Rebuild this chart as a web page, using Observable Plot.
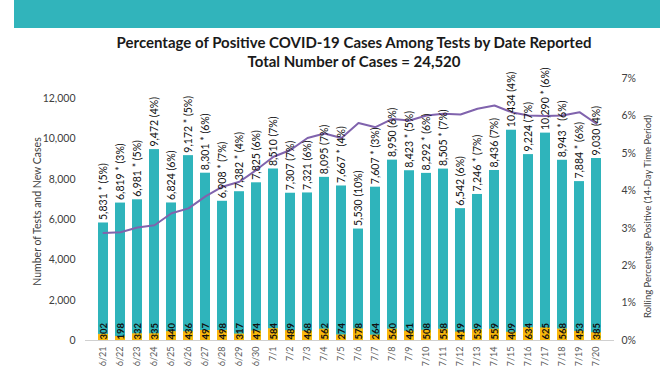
<!DOCTYPE html>
<html>
<head>
<meta charset="utf-8">
<script src="https://cdn.jsdelivr.net/npm/d3@7"></script>
<script src="https://cdn.jsdelivr.net/npm/@observablehq/plot@0.6"></script>
<style>
  html, body { margin: 0; padding: 0; background: #fff; }
  #wrap { position: relative; width: 672px; height: 372px; overflow: hidden; font-family: Lato, "Open Sans", sans-serif; }
  #banner { position: absolute; left: 14px; top: 0; width: 646px; height: 28px; background: #31b4bb; z-index: 2; }
  .ttl { position: absolute; left: 0; width: 708px; text-align: center; font-weight: bold; color: #1a1a1a; z-index: 2; white-space: nowrap; }
  #t1 { top: 33px; font-size: 15px; }
  #t2 { top: 52px; font-size: 15px; }
  #chart { position: absolute; left: 0; top: 0; z-index: 1; }
</style>
</head>
<body>
<div id="wrap">
  <div id="banner"></div>
  <div class="ttl" id="t1">Percentage of Positive COVID-19 Cases Among Tests by Date Reported</div>
  <div class="ttl" id="t2">Total Number of Cases = 24,520</div>
  <div id="chart"></div>
</div>
<script>
const dates = ["6/21","6/22","6/23","6/24","6/25","6/26","6/27","6/28","6/29","6/30",
  "7/1","7/2","7/3","7/4","7/5","7/6","7/7","7/8","7/9","7/10",
  "7/11","7/12","7/13","7/14","7/15","7/16","7/17","7/18","7/19","7/20"];
const tests = [5831,6819,6981,9472,6824,9172,8301,6908,7382,7825,
  8510,7307,7321,8095,7667,5530,7607,8950,8423,8292,
  8505,6542,7246,8436,10434,9224,10290,8943,7884,9030];
const cases = [302,198,332,335,440,436,497,498,317,474,
  584,489,468,562,274,578,264,560,461,508,
  558,419,539,559,409,634,625,568,453,385];
const dailyPct = [5,3,5,4,6,5,6,7,4,6,7,7,6,7,4,10,3,6,5,6,7,6,7,7,4,7,6,6,6,4];
const starred = [1,1,1,0,0,1,1,1,1,0,0,0,0,0,1,0,1,0,1,1,1,0,1,0,0,0,1,1,1,0];
const rolling = [2.87,2.89,3.02,3.08,3.40,3.53,3.85,4.11,4.24,4.56,
  4.91,5.09,5.41,5.53,5.41,5.81,5.70,5.92,5.88,6.01,
  6.06,6.04,6.19,6.28,6.10,6.01,6.00,6.01,6.10,5.79];
const leftTicks = [0,2000,4000,6000,8000,10000,12000];
const rightTicks = [0,1,2,3,4,5,6,7];

const yMax = 13000;   // left-axis top of the frame
const pctMax = 7;     // right-axis top of the frame
const toLeft = p => p / pctMax * yMax;

const rows = dates.map((d, i) => ({
  date: d, tests: tests[i], cases: cases[i], rolling: toLeft(rolling[i]),
  label: d3.format(",")(tests[i]) + (starred[i] ? " *" : "") + " (" + dailyPct[i] + "%)"
}));

const font = "Lato, 'Open Sans', sans-serif";

const chart = Plot.plot({
  width: 672,
  height: 372,
  marginLeft: 85,
  marginRight: 58,
  marginTop: 78,
  marginBottom: 32,
  style: { fontFamily: font, background: "transparent", overflow: "visible" },
  x: { type: "band", domain: dates, paddingInner: 0.43, paddingOuter: 0.3, axis: null },
  y: { domain: [0, yMax], axis: null },
  marks: [
    Plot.barY(rows, { x: "date", y: "tests", fill: "#2fb4bb" }),
    Plot.barY(rows, { x: "date", y: "cases", fill: "#f8b80c" }),
    Plot.ruleY([0], { stroke: "#d0d0d0", strokeWidth: 1 }),
    Plot.line(rows, { x: "date", y: "rolling", stroke: "#8063ad", strokeWidth: 2, curve: "linear" }),
    Plot.text(rows, { x: "date", y: "tests", text: "label", rotate: -90, textAnchor: "start", lineAnchor: "middle", dy: -3, fontSize: 10.5, fill: "#111" }),
    Plot.text(rows, { x: "date", y: 0, text: d => String(d.cases), rotate: -90, textAnchor: "start", lineAnchor: "middle", dy: -1, fontSize: 9.5, fontWeight: "bold", fill: "#111" }),
    Plot.text(dates, { x: d => d, frameAnchor: "bottom", rotate: -90, textAnchor: "end", lineAnchor: "middle", dy: 6, fontSize: 9, fill: "#595959" }),
    Plot.axisY({ anchor: "left", ticks: leftTicks, tickSize: 0, tickPadding: 10, tickFormat: d3.format(","), fontSize: 10.5, color: "#404040", label: null }),
    Plot.axisY({ anchor: "right", ticks: rightTicks.map(toLeft), tickSize: 0, tickPadding: 7, tickFormat: d => Math.round(d / yMax * pctMax) + "%", fontSize: 10.5, color: "#404040", label: null }),
    Plot.text(["Number of Tests and New Cases"], { frameAnchor: "left", textAnchor: "middle", lineAnchor: "middle", dx: -48, dy: 2, rotate: -90, fontSize: 10.5, fill: "#404040" }),
    Plot.text(["Rolling Percentage Positive (14-Day Time Period)"], { frameAnchor: "right", textAnchor: "middle", lineAnchor: "middle", dx: 33, dy: 7, rotate: -90, fontSize: 9.5, fill: "#404040" })
  ]
});
document.getElementById("chart").appendChild(chart);
</script>
</body>
</html>
